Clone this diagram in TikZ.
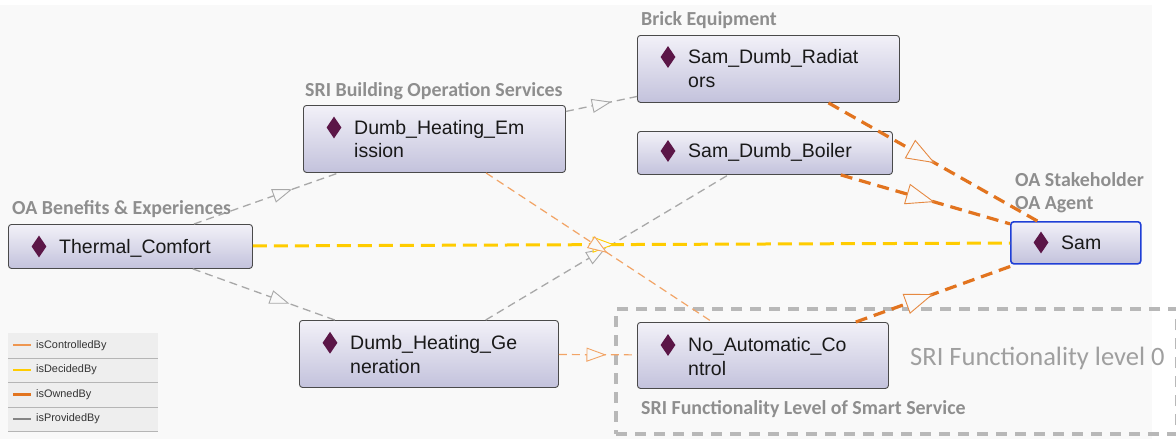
\documentclass[tikz,border=0pt]{standalone}
\usepackage{fontspec}
\setmainfont{Liberation Sans}
\newfontfamily\calibfont{Carlito}
\usetikzlibrary{shapes.geometric,calc,decorations.markings}

\definecolor{canvas}{HTML}{F9F9F9}
\definecolor{boxtop}{HTML}{F2F1F8}
\definecolor{boxbot}{HTML}{C3C2DC}
\definecolor{boxedge}{HTML}{4A4A4A}
\definecolor{agentedge}{HTML}{1F3FD6}
\definecolor{iconpurple}{HTML}{5B1647}
\definecolor{provgray}{HTML}{A8A8A8}
\definecolor{ctrlorange}{HTML}{F2A466}
\definecolor{decyellow}{HTML}{FFCC00}
\definecolor{ownorange}{HTML}{E2741F}
\definecolor{grptext}{HTML}{8E8E8E}
\definecolor{grpdash}{HTML}{B8B8B8}
\definecolor{legbg}{HTML}{EEEEEE}
\definecolor{legsep}{HTML}{B5B5B5}
\definecolor{legtextc}{HTML}{333333}
\definecolor{legprov}{HTML}{858585}
\definecolor{legctrl}{HTML}{EE9650}

\tikzset{
  ent/.style={draw=boxedge, line width=0.9pt, rounded corners=3pt,
    top color=boxtop, bottom color=boxbot, anchor=north west, inner sep=0pt},
  agent/.style={draw=agentedge, line width=1.6pt},
  icon/.style={diamond, fill=iconpurple, inner sep=0pt,
    minimum width=15pt, minimum height=22pt},
  enttext/.style={anchor=north west, inner sep=0pt, align=left,
    text=black!90, font=\fontsize{19.5}{23.5}\selectfont},
  grplabel/.style={anchor=base west, inner sep=0pt, text=grptext,
    font=\calibfont\bfseries\fontsize{19.9}{23}\selectfont},
  lvllabel/.style={anchor=base west, inner sep=0pt, text=grptext!85,
    font=\calibfont\fontsize{26.5}{30}\selectfont},
  grpbox/.style={draw=grpdash, line width=4pt, dash pattern=on 11pt off 8pt,
    anchor=north west, inner sep=0pt},
  provided/.style={draw=provgray, line width=1.3pt, dash pattern=on 8pt off 5pt},
  controlled/.style={draw=ctrlorange, line width=1.2pt, dash pattern=on 8pt off 5pt},
  decided/.style={draw=decyellow, line width=3pt, dash pattern=on 14pt off 7pt},
  owned/.style={draw=ownorange, line width=3.2pt, dash pattern=on 12pt off 7pt},
  legrow/.style={fill=legbg, anchor=north west, inner sep=0pt,
    minimum width=150pt, minimum height=24.5pt},
  legsepline/.style={draw=legsep, line width=0.8pt},
  legtext/.style={anchor=west, inner sep=0pt, text=legtextc,
    font=\fontsize{10.9}{12}\selectfont},
}

% entity box: name, left, top, width, height, first baseline below top, text, extra style
\newcommand\ontobox[8]{%
  \node[ent,#8, minimum width=#4pt, minimum height=#5pt] (#1) at (#2,#3) {};
  \node[icon] (#1-icon) at ($(#2,#3)+(31,#6-6.5)$) {};
  \node[enttext] (#1-text) at ($(#2,#3)+(51,#6-16.45)$) {\strut #7};
}

% open triangle half way between two node centres: colour, length, width, from, to
\newcommand\midtip[5]{%
  \path[postaction={decorate}, decoration={markings, mark=at position 0.5 with
    {\draw[draw=#1, line width=0.9pt, fill=canvas, line join=miter]
      (#2/2,0) -- (-#2/2,#3/2) -- (-#2/2,-#3/2) -- cycle;}}]
    (#4.center) -- (#5.center);
}

\begin{document}
\begin{tikzpicture}[x=1pt, y=-1pt]
  \useasboundingbox (0,0) rectangle (1176,439);
  \fill[white] (0,0) rectangle (1176,439);
  \fill[canvas] (0,5) rectangle (1152,439);

  % functionality level group
  \node[grpbox, minimum width=561pt, minimum height=125pt] (lvlgroup) at (614,307) {};

  % entities
  \ontobox{tc}{8}{224}{244}{44}{29}{Thermal\_Comfort}{}
  \ontobox{dhe}{303}{105}{262}{67}{29}{Dumb\_Heating\_Em\\ission}{}
  \ontobox{rad}{637}{35}{262}{67}{28.5}{Sam\_Dumb\_Radiat\\ors}{}
  \ontobox{boil}{637}{131}{255}{43}{26.5}{Sam\_Dumb\_Boiler}{}
  \ontobox{sam}{1010}{221}{130}{42}{28}{Sam}{agent}
  \ontobox{dhg}{299}{320}{259}{67}{29.3}{Dumb\_Heating\_Ge\\neration}{}
  \ontobox{nac}{637}{322}{251}{66}{29.5}{No\_Automatic\_Co\\ntrol}{}

  % relations
  \draw[provided] (tc) -- (dhe);
  \draw[provided] (tc) -- (dhg);
  \draw[provided] (dhe) -- (rad);
  \draw[provided] (dhg) -- (boil);
  \draw[controlled] (dhe) -- (nac);
  \draw[controlled] (dhg) -- (nac);
  \draw[decided] (tc) -- (sam);
  \draw[owned] (rad) -- (sam);
  \draw[owned] (boil) -- (sam);
  \draw[owned] (nac) -- (sam);

  % direction marks
  \midtip{provgray}{18}{13}{tc}{dhe}
  \midtip{provgray}{18}{13}{tc}{dhg}
  \midtip{provgray}{18}{13}{dhe}{rad}
  \midtip{provgray}{18}{13}{dhg}{boil}
  \midtip{decyellow}{20}{15}{tc}{sam}
  \midtip{ctrlorange}{18}{13}{dhe}{nac}
  \midtip{ctrlorange}{18}{13}{dhg}{nac}
  \midtip{ownorange!85}{27}{20}{rad}{sam}
  \midtip{ownorange!85}{27}{20}{boil}{sam}
  \midtip{ownorange!85}{27}{20}{nac}{sam}

  % group labels
  \node[grplabel] (lbl-brick) at (641,25) {Brick Equipment};
  \node[grplabel] (lbl-bos) at (305,96) {SRI Building Operation Services};
  \node[grplabel] (lbl-oab) at (12,214) {OA Benefits \& Experiences};
  \node[grplabel] (lbl-oas) at (1015,186) {OA Stakeholder};
  \node[grplabel] (lbl-oaa) at (1015,209) {OA Agent};
  \node[grplabel] (lbl-fls) at (641,414) {SRI Functionality Level of Smart Service};
  \node[lvllabel] (lbl-lvl0) at (910,365.5) {SRI Functionality level 0};

  % legend
  \node[legrow] (leg1) at (8,333) {};
  \node[legrow] (leg2) at (8,357.5) {};
  \node[legrow] (leg3) at (8,382) {};
  \node[legrow] (leg4) at (8,406.5) {};
  \foreach \r in {leg1,leg2,leg3,leg4}
    \draw[legsepline] (\r.south west) -- (\r.south east);
  \draw[draw=legctrl, line width=2pt] ([xshift=5pt]leg1.west) -- ([xshift=23pt]leg1.west);
  \draw[draw=decyellow, line width=2.6pt] ([xshift=5pt]leg2.west) -- ([xshift=23pt]leg2.west);
  \draw[draw=ownorange, line width=2.6pt] ([xshift=5pt]leg3.west) -- ([xshift=23pt]leg3.west);
  \draw[draw=legprov, line width=2.6pt] ([xshift=5pt]leg4.west) -- ([xshift=23pt]leg4.west);
  \node[legtext] (leg1-t) at ([xshift=28pt]leg1.west) {isControlledBy};
  \node[legtext] (leg2-t) at ([xshift=28pt]leg2.west) {isDecidedBy};
  \node[legtext] (leg3-t) at ([xshift=28pt]leg3.west) {isOwnedBy};
  \node[legtext] (leg4-t) at ([xshift=28pt]leg4.west) {isProvidedBy};
\end{tikzpicture}
\end{document}
